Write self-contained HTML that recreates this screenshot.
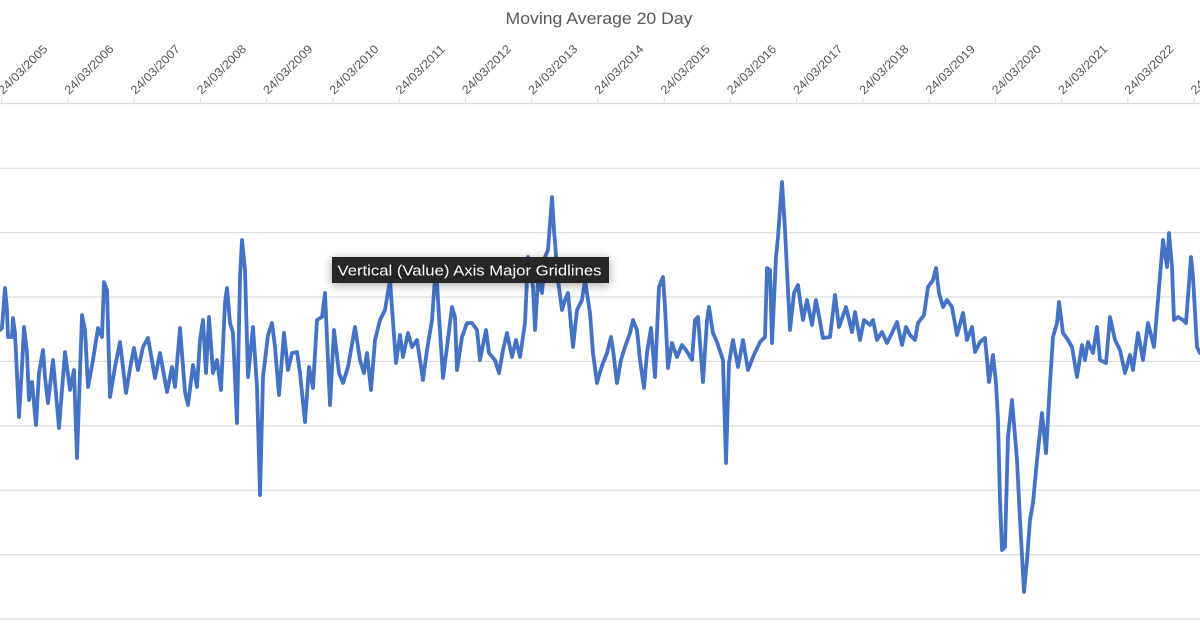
<!DOCTYPE html>
<html>
<head>
<meta charset="utf-8">
<style>
html,body{margin:0;padding:0;background:#fff;}
#wrap{position:relative;width:1200px;height:630px;overflow:hidden;background:#fff;font-family:"Liberation Sans",sans-serif;}
svg{position:absolute;left:0;top:0;}
#tip{position:absolute;left:332px;top:257px;width:277px;height:26px;background:#262626;box-shadow:0 2px 10px rgba(0,0,0,0.35);}
</style>
</head>
<body>
<div id="wrap">
<svg width="1200" height="630" viewBox="0 0 1200 630" xmlns="http://www.w3.org/2000/svg">
<text x="599" y="24" text-anchor="middle" font-family="Liberation Sans, sans-serif" font-size="16.5" fill="#595959" textLength="187" lengthAdjust="spacingAndGlyphs">Moving Average 20 Day</text>
<g stroke="#d9d9d9" stroke-width="1.2">
<line x1="0" y1="103.5" x2="1200" y2="103.5"/>
<line x1="0" y1="168.3" x2="1200" y2="168.3"/>
<line x1="0" y1="232.7" x2="1200" y2="232.7"/>
<line x1="0" y1="297" x2="1200" y2="297"/>
<line x1="0" y1="361.4" x2="1200" y2="361.4"/>
<line x1="0" y1="425.8" x2="1200" y2="425.8"/>
<line x1="0" y1="490.2" x2="1200" y2="490.2"/>
<line x1="0" y1="554.6" x2="1200" y2="554.6"/>
<line x1="0" y1="619" x2="1200" y2="619"/>
</g>
<g stroke="#d9d9d9" stroke-width="1">
<line x1="1.7" y1="98" x2="1.7" y2="103"/><line x1="67.9" y1="98" x2="67.9" y2="103"/><line x1="134.2" y1="98" x2="134.2" y2="103"/><line x1="200.4" y1="98" x2="200.4" y2="103"/><line x1="266.7" y1="98" x2="266.7" y2="103"/><line x1="332.9" y1="98" x2="332.9" y2="103"/><line x1="399.2" y1="98" x2="399.2" y2="103"/><line x1="465.4" y1="98" x2="465.4" y2="103"/><line x1="531.7" y1="98" x2="531.7" y2="103"/><line x1="597.9" y1="98" x2="597.9" y2="103"/><line x1="664.2" y1="98" x2="664.2" y2="103"/><line x1="730.4" y1="98" x2="730.4" y2="103"/><line x1="796.7" y1="98" x2="796.7" y2="103"/><line x1="862.9" y1="98" x2="862.9" y2="103"/><line x1="929.2" y1="98" x2="929.2" y2="103"/><line x1="995.4" y1="98" x2="995.4" y2="103"/><line x1="1061.7" y1="98" x2="1061.7" y2="103"/><line x1="1127.9" y1="98" x2="1127.9" y2="103"/><line x1="1194.2" y1="98" x2="1194.2" y2="103"/>
</g>
<g font-family="Liberation Sans, sans-serif" font-size="12" fill="#595959">
<text transform="translate(3,95) rotate(-45)" textLength="64" lengthAdjust="spacingAndGlyphs">24/03/2005</text>
<text transform="translate(69.2,95) rotate(-45)" textLength="64" lengthAdjust="spacingAndGlyphs">24/03/2006</text>
<text transform="translate(135.5,95) rotate(-45)" textLength="64" lengthAdjust="spacingAndGlyphs">24/03/2007</text>
<text transform="translate(201.7,95) rotate(-45)" textLength="64" lengthAdjust="spacingAndGlyphs">24/03/2008</text>
<text transform="translate(268,95) rotate(-45)" textLength="64" lengthAdjust="spacingAndGlyphs">24/03/2009</text>
<text transform="translate(334.2,95) rotate(-45)" textLength="64" lengthAdjust="spacingAndGlyphs">24/03/2010</text>
<text transform="translate(400.5,95) rotate(-45)" textLength="64" lengthAdjust="spacingAndGlyphs">24/03/2011</text>
<text transform="translate(466.7,95) rotate(-45)" textLength="64" lengthAdjust="spacingAndGlyphs">24/03/2012</text>
<text transform="translate(533,95) rotate(-45)" textLength="64" lengthAdjust="spacingAndGlyphs">24/03/2013</text>
<text transform="translate(599.2,95) rotate(-45)" textLength="64" lengthAdjust="spacingAndGlyphs">24/03/2014</text>
<text transform="translate(665.5,95) rotate(-45)" textLength="64" lengthAdjust="spacingAndGlyphs">24/03/2015</text>
<text transform="translate(731.7,95) rotate(-45)" textLength="64" lengthAdjust="spacingAndGlyphs">24/03/2016</text>
<text transform="translate(798,95) rotate(-45)" textLength="64" lengthAdjust="spacingAndGlyphs">24/03/2017</text>
<text transform="translate(864.2,95) rotate(-45)" textLength="64" lengthAdjust="spacingAndGlyphs">24/03/2018</text>
<text transform="translate(930.5,95) rotate(-45)" textLength="64" lengthAdjust="spacingAndGlyphs">24/03/2019</text>
<text transform="translate(996.7,95) rotate(-45)" textLength="64" lengthAdjust="spacingAndGlyphs">24/03/2020</text>
<text transform="translate(1063,95) rotate(-45)" textLength="64" lengthAdjust="spacingAndGlyphs">24/03/2021</text>
<text transform="translate(1129.2,95) rotate(-45)" textLength="64" lengthAdjust="spacingAndGlyphs">24/03/2022</text>
<text transform="translate(1195.5,95) rotate(-45)" textLength="64" lengthAdjust="spacingAndGlyphs">24/03/2023</text>
</g>
<polyline fill="none" stroke="#4472C4" stroke-width="3.8" stroke-linejoin="round" stroke-linecap="round" points="0,330 2,328 5,288 7,310 8,337 12,337 13,318 15,333 19,417 22,367 24,327 27,353 29,400 32,382 36,425 39,373 43,350 45,377 48,403 53,360 59,428 65,352 70,390 74,370 77,458 82,315 85,330 88,387 93,360 98,328 102,337 104,282 107,290 110,397 115,367 120,342 126,393 131,363 134,348 138,370 143,347 148,338 155,378 160,353 167,392 172,367 175,387 180,328 185,392 188,405 193,365 197,387 200,340 203,320 206,373 209,317 213,373 217,360 221,390 225,303 227,288 230,323 233,333 237,423 240,277 242,240 245,270 248,377 253,327 257,387 260,495 263,377 268,335 272,323 275,347 279,395 284,333 288,370 292,353 297,352 300,373 305,422 309,367 313,388 317,320 322,317 325,293 330,405 334,330 339,373 343,383 348,367 355,327 360,360 364,373 367,353 371,390 375,340 380,320 385,310 390,280 396,363 400,335 403,357 408,333 412,347 417,340 423,380 427,350 432,320 436,263 438,300 443,378 447,347 452,307 455,317 457,370 462,337 467,323 472,323 477,330 480,360 486,330 489,353 495,360 499,373 503,350 507,333 512,357 516,340 520,357 525,323 528,257 533,287 535,330 538,280 542,293 545,257 548,250 552,197 554,230 558,280 562,310 565,300 568,293 573,347 577,310 582,300 585,280 590,313 593,353 597,383 600,372 603,363 607,353 611,337 613,350 617,383 621,360 625,347 630,333 633,320 637,330 640,360 644,388 647,353 651,328 655,377 659,287 663,277 665,307 668,368 672,343 677,357 682,345 686,350 692,360 695,320 698,317 703,382 707,320 709,307 713,333 717,342 723,360 726,463 729,363 733,340 738,367 743,340 748,370 753,357 760,342 765,337 767,268 770,270 772,343 776,257 778,237 782,182 785,230 790,330 794,293 798,285 800,300 803,320 807,300 812,325 816,300 823,338 830,337 835,295 839,327 846,307 852,332 855,312 860,340 864,320 870,325 873,320 877,340 882,332 887,343 892,333 897,322 902,345 906,327 910,335 915,340 918,323 924,315 928,287 933,280 936,268 939,293 943,307 947,300 952,307 957,335 963,313 967,340 972,327 975,352 980,342 985,338 989,382 993,355 996,383 998,420 1000,500 1002,550 1005,547 1008,437 1012,400 1017,460 1020,520 1024,592 1027,560 1030,520 1033,503 1037,460 1042,413 1046,453 1050,383 1053,337 1057,323 1059,302 1063,333 1068,340 1072,347 1077,377 1082,345 1085,360 1088,342 1093,353 1097,327 1100,360 1106,363 1110,317 1115,340 1120,350 1125,373 1130,355 1133,370 1138,333 1143,360 1148,323 1154,347 1158,300 1163,240 1167,267 1169,233 1172,267 1174,320 1178,317 1183,320 1186,323 1191,257 1193,277 1197,347 1200,353"/>
</svg>
<div id="tip"></div>
<svg width="1200" height="630" viewBox="0 0 1200 630" xmlns="http://www.w3.org/2000/svg">
<text x="337.5" y="275.5" font-family="Liberation Sans, sans-serif" font-size="15" fill="#ffffff" textLength="264" lengthAdjust="spacingAndGlyphs">Vertical (Value) Axis Major Gridlines</text>
</svg>
</div>
</body>
</html>
